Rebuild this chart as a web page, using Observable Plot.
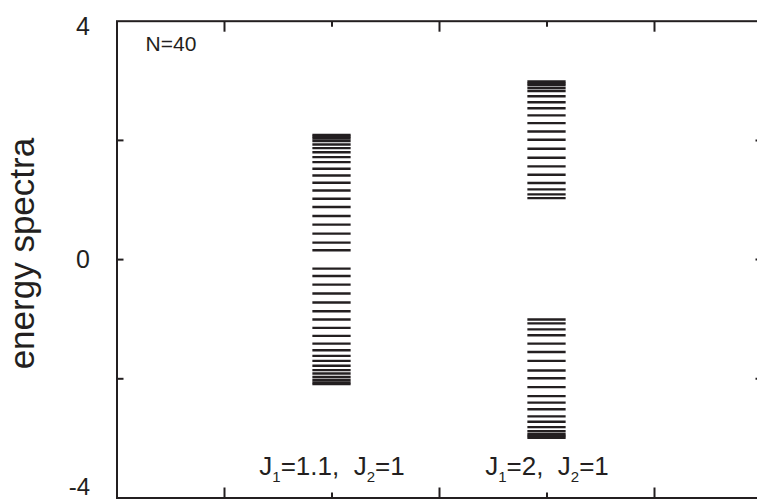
<!DOCTYPE html>
<html><head><meta charset="utf-8">
<script src="https://cdn.jsdelivr.net/npm/d3@7"></script>
<script src="https://cdn.jsdelivr.net/npm/@observablehq/plot@0.6"></script>
<style>
body{margin:0;background:#fff;overflow:hidden}
#chart{width:757px;height:499px;overflow:hidden}
</style>
</head><body><div id="chart"></div>
<script>
// Categories (parameter sets) and their x positions
const categories = ["J1=1.1,  J2=1", "J1=2,  J2=1"];
const categoryX = [1, 2];

// Energy levels (N = 40 levels per set)
const col1Levels = [
  2.090, 2.060, 2.030, 1.990, 1.930, 1.870, 1.800, 1.720, 1.636, 1.525,
  1.410, 1.290, 1.160, 1.022, 0.882, 0.731, 0.587, 0.436, 0.285, 0.156,
  -0.151, -0.275, -0.420, -0.570, -0.720, -0.867, -1.006, -1.146, -1.280, -1.410,
  -1.520, -1.616, -1.700, -1.780, -1.855, -1.910, -1.970, -2.020, -2.060, -2.090
];
const col2Levels = [
  2.990, 2.960, 2.930, 2.880, 2.830, 2.740, 2.640, 2.540, 2.420, 2.290,
  2.150, 2.010, 1.860, 1.710, 1.564, 1.424, 1.284, 1.178, 1.094, 1.032,
  -1.006, -1.070, -1.170, -1.270, -1.410, -1.550, -1.700, -1.860, -1.990, -2.140,
  -2.290, -2.400, -2.510, -2.630, -2.720, -2.810, -2.880, -2.930, -2.960, -2.990
];

// Axis ticks
const yTickLabels = [-4, 0, 4];
const yTicks = [-2, 0, 2];
const xMajorTicks = [0.5, 1.5, 2.5];
const xMinorTicks = [1, 2];
const annotation = "N=40";
const yLabel = "energy spectra";

const levels = [];
[col1Levels, col2Levels].forEach((arr, i) => arr.forEach(E => levels.push({x: categoryX[i], E})));

const ink = "#231f20";
const halfWidth = 0.089;

const chart = Plot.plot({
  width: 757,
  height: 499,
  marginLeft: 116.5,
  marginRight: -4.5,
  marginTop: 20.7,
  marginBottom: 1.5,
  style: {fontFamily: "'Liberation Sans', Arial, sans-serif", color: ink, background: "white"},
  x: {domain: [0, 3], axis: null},
  y: {domain: [-4, 4], axis: null},
  marks: [
    Plot.ruleY(levels, {y: "E", x1: d => d.x - halfWidth, x2: d => d.x + halfWidth, stroke: ink, strokeWidth: 2.4}),
    Plot.frame({stroke: ink, strokeWidth: 2}),
    // tick marks (inward)
    Plot.axisY(yTicks, {anchor: "left", tickSize: -7, fill: "none", stroke: ink, strokeWidth: 2}),
    Plot.axisY(yTicks, {anchor: "right", tickSize: -7, fill: "none", stroke: ink, strokeWidth: 2}),
    Plot.axisX(xMajorTicks, {anchor: "bottom", tickSize: -10, fill: "none", stroke: ink, strokeWidth: 2}),
    Plot.axisX(xMinorTicks, {anchor: "bottom", tickSize: -5, fill: "none", stroke: ink, strokeWidth: 2}),
    Plot.axisX(xMajorTicks, {anchor: "top", tickSize: -10, fill: "none", stroke: ink, strokeWidth: 2}),
    Plot.axisX(xMinorTicks, {anchor: "top", tickSize: -5, fill: "none", stroke: ink, strokeWidth: 2}),
    // tick labels
    Plot.axisY(yTickLabels.filter(v => v === 0), {anchor: "left", tickSize: 0, tickPadding: 27, fontSize: 25, label: null, tickFormat: d => String(d), fill: ink}),
    Plot.axisY(yTickLabels.filter(v => v > 0), {anchor: "left", tickSize: 0, tickPadding: 27, fontSize: 25, label: null, tickFormat: d => String(d), fill: ink, dy: 6}),
    Plot.axisY(yTickLabels.filter(v => v < 0), {anchor: "left", tickSize: 0, tickPadding: 27, fontSize: 24, label: null, tickFormat: d => String(d), fill: ink, dy: -11}),
    // y axis title
    Plot.text([yLabel], {frameAnchor: "left", textAnchor: "middle", text: d => d, rotate: -90, dx: -94.5, dy: -6, fontSize: 35, fill: ink}),
    // annotation
    Plot.text([annotation], {x: 0.133, y: 3.617, text: d => d, textAnchor: "start", fontSize: 21, fill: ink}),
    // category labels
    Plot.text(categories, {x: (d, i) => categoryX[i], y: -3.473, text: d => d, fontSize: 26, fill: ink})
  ]
});

// Render J1 / J2 with subscripts
chart.querySelectorAll("text").forEach(t => {
  const s = t.textContent;
  if (!categories.includes(s)) return;
  t.textContent = "";
  t.style.whiteSpace = "pre";
  const ns = "http://www.w3.org/2000/svg";
  const parts = s.split(/J(\d)/);
  let shifted = false;
  parts.forEach((p, k) => {
    if (k % 2 === 0) {
      const span = document.createElementNS(ns, "tspan");
      span.textContent = p + (k < parts.length - 1 ? "J" : "");
      if (shifted) { span.setAttribute("dy", "-7"); shifted = false; }
      t.appendChild(span);
    } else {
      const sub = document.createElementNS(ns, "tspan");
      sub.textContent = p;
      sub.setAttribute("font-size", "15");
      sub.setAttribute("dy", "7");
      t.appendChild(sub);
      shifted = true;
    }
  });
});

document.getElementById("chart").appendChild(chart);
</script>
</body></html>
